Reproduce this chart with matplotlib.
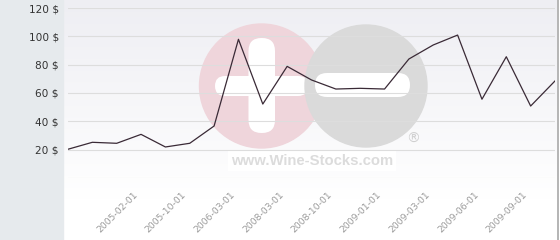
import numpy as np
import matplotlib
matplotlib.use("Agg")
import matplotlib.pyplot as plt
from matplotlib.patches import Circle, FancyBboxPatch, Rectangle
from matplotlib.transforms import ScaledTranslation

# ---- data ----
values = [20.3, 25.2, 24.5, 30.8, 21.9, 24.5, 36.7, 97.9, 52.2, 78.8, 69.2,
          62.8, 63.3, 62.8, 84.0, 93.9, 100.9, 55.6, 85.6, 50.8, 68.5]
tick_labels = ["", "", "", "2005-02-01", "", "2005-10-01", "", "2006-03-01", "",
               "2008-03-01", "", "2008-10-01", "", "2009-01-01", "", "2009-03-01",
               "", "2009-06-01", "", "2009-09-01", ""]
y_ticks = [0, 20, 40, 60, 80, 100, 120]
y_tick_labels = ["", "20 $", "40 $", "60 $", "80 $", "100 $", "120 $"]

W, H = 560, 240
fig = plt.figure(figsize=(W / 100, H / 100), dpi=100)
fig.patch.set_facecolor("white")

# ---- background (pixel coordinates) ----
bg = fig.add_axes([0, 0, 1, 1], zorder=-10)
bg.set_xlim(0, W)
bg.set_ylim(H, 0)
bg.axis("off")
c_top = np.array([0xee, 0xee, 0xf3]) / 255
c_bot = np.array([0xff, 0xff, 0xff]) / 255
t = np.linspace(0, 1, 200)[:, None]
grad = (c_top[None, :] * (1 - t) + c_bot[None, :] * t)[:, None, :]
bg.imshow(grad, extent=(63, 557, 200, 0), aspect="auto", zorder=0)
bg.add_patch(Rectangle((0, 0), 63, H, color="#e6eaed", zorder=1))
bg.plot([557.5, 557.5], [0, H], color="#a8a8a8", lw=1.2, zorder=1)

# watermark
pink = "#efd5db"
grey = "#dadada"
bg.add_patch(Circle((261.5, 86), 62, color=pink, zorder=2))
bg.add_patch(FancyBboxPatch((215, 76), 93, 20, boxstyle="round,pad=0,rounding_size=10",
                            fc="white", ec="none", zorder=3))
bg.add_patch(FancyBboxPatch((248.5, 38), 26.5, 95, boxstyle="round,pad=0,rounding_size=13",
                            fc="white", ec="none", zorder=3))
bg.add_patch(Circle((366, 86), 61, color=grey, zorder=4))
bg.add_patch(FancyBboxPatch((315, 73), 95, 24, boxstyle="round,pad=0,rounding_size=12",
                            fc="white", ec="none", zorder=5))
bg.text(312, 161, "www.Wine-Stocks.com", fontsize=10.7, fontweight="bold",
        family="Liberation Sans", color="#dcdcdc", ha="center", va="center", zorder=6,
        bbox=dict(fc="white", ec="none", pad=2.5))
bg.text(413, 139, "\u00ae", fontsize=10, family="DejaVu Sans", color="#d0d0d0",
        ha="center", va="center", zorder=6)

# ---- main chart ----
ax = fig.add_axes([68 / W, 1 - 178 / H, (555 - 68) / W, (178 - 8) / H])
ax.patch.set_alpha(0)
x = np.arange(len(values))
ax.plot(x, values, color="#3a2a36", lw=0.9, zorder=3)
ax.set_xlim(0, len(values) - 1)
ax.set_ylim(0, 120)
ax.set_yticks(y_ticks)
ax.set_yticklabels(y_tick_labels)
ax.set_xticks(x)
ax.set_xticklabels(tick_labels, rotation=45, ha="right", rotation_mode="anchor")
ax.grid(axis="y", color="#dddddd", lw=0.8)
ax.set_axisbelow(True)
for s in ax.spines.values():
    s.set_visible(False)
ax.tick_params(axis="y", length=0, pad=6.5, labelsize=7.6, labelcolor="#333333")
ax.tick_params(axis="x", length=0, pad=9, labelsize=6.7, labelcolor="#9a9a9a")
shift = ScaledTranslation(-8 / 100, 0, fig.dpi_scale_trans)
for lab in ax.get_xticklabels():
    lab.set_transform(lab.get_transform() + shift)

fig.savefig("out.png", dpi=100)
